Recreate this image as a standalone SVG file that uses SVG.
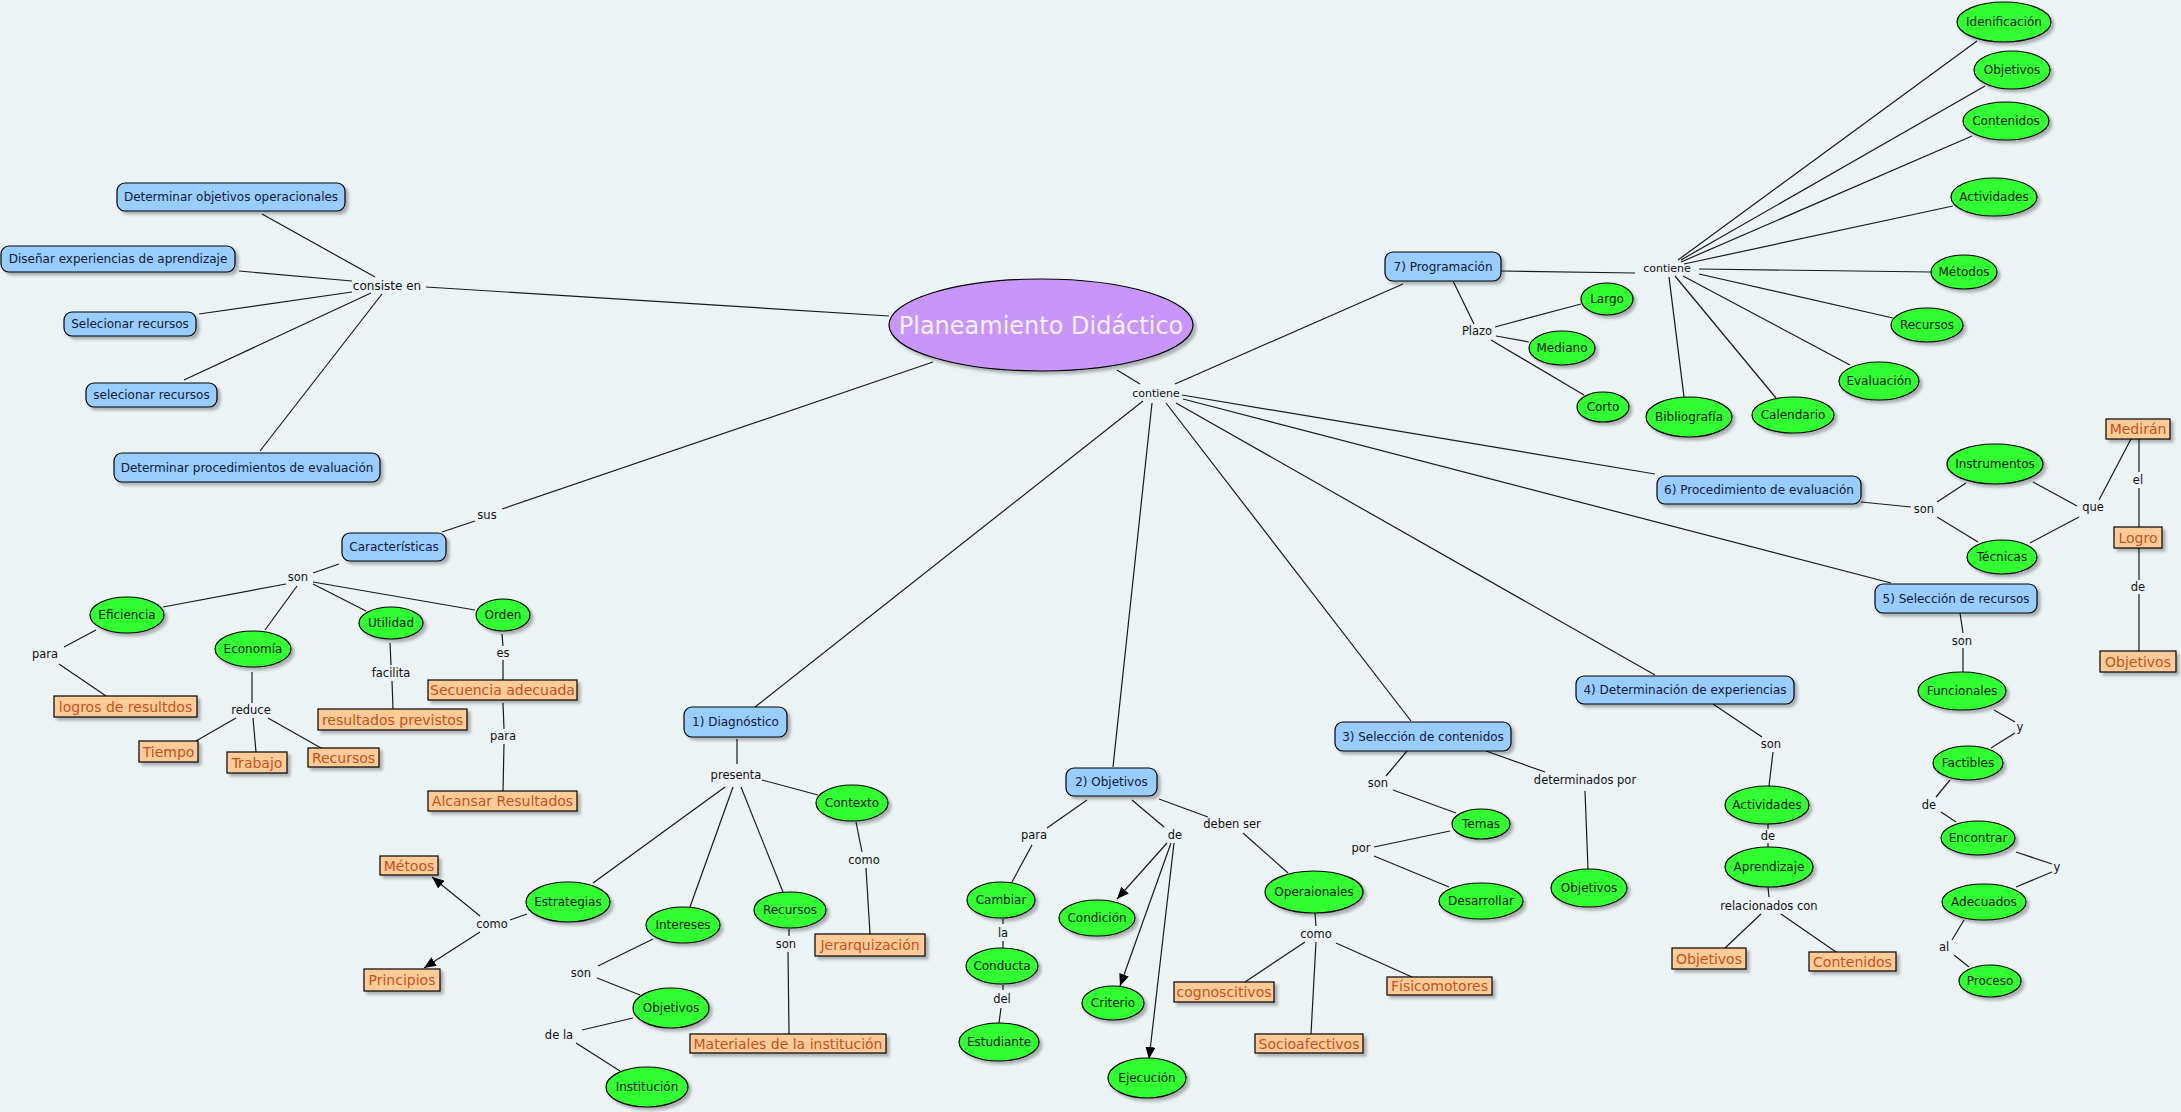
<svg xmlns="http://www.w3.org/2000/svg" width="2181" height="1112" viewBox="0 0 2181 1112">
<defs>
<style>
.bg{fill:#ecf3f5}
.b rect{fill:#99ccff;stroke:#000;stroke-width:1.2}
.g ellipse{fill:#33ff33;stroke:#000;stroke-width:1.2}
.o rect{fill:#ffcc99;stroke:#000;stroke-width:1.2}
.b text{fill:#101a33;font:12px "DejaVu Sans",Verdana,sans-serif;text-anchor:middle}
.g text{fill:#082008;font:12px "DejaVu Sans",Verdana,sans-serif;text-anchor:middle}
.o text{fill:#bf521a;font:14px "DejaVu Sans",Verdana,sans-serif;text-anchor:middle}
.lb text{fill:#111;font:11.5px "DejaVu Sans",Verdana,sans-serif;text-anchor:middle}
.sh{filter:url(#ds)}
#connectors line{stroke:#1a1a1a;stroke-width:1.2;fill:none}
</style>
<filter id="ds" x="-20%" y="-30%" width="150%" height="170%">
<feDropShadow dx="3" dy="3" stdDeviation="1.5" flood-color="#000" flood-opacity="0.28"/>
</filter>
<marker id="ah" viewBox="0 0 12 10" refX="12" refY="5" markerWidth="12" markerHeight="10" markerUnits="userSpaceOnUse" orient="auto">
<path d="M0,0 L12,5 L0,10 z" fill="#000"/>
</marker>
</defs>
<rect class="bg" x="0" y="0" width="2181" height="1112"/>

<g id="connectors">
<line x1="375" y1="277" x2="262" y2="214"/>
<line x1="352" y1="281" x2="239" y2="271"/>
<line x1="352" y1="292" x2="199" y2="314"/>
<line x1="371" y1="293" x2="184" y2="380"/>
<line x1="382" y1="294" x2="260" y2="451"/>
<line x1="426" y1="287" x2="889" y2="316"/>
<line x1="502" y1="509" x2="933" y2="362"/>
<line x1="475" y1="521" x2="442" y2="532"/>
<line x1="1117" y1="370" x2="1140" y2="384"/>
<line x1="1175" y1="384" x2="1403" y2="284"/>
<line x1="1182" y1="395" x2="1655" y2="474"/>
<line x1="1183" y1="399" x2="1891" y2="583"/>
<line x1="1176" y1="403" x2="1655" y2="675"/>
<line x1="1166" y1="403" x2="1411" y2="721"/>
<line x1="1152" y1="403" x2="1113" y2="767"/>
<line x1="1143" y1="401" x2="755" y2="707"/>
<line x1="339" y1="564" x2="313" y2="573"/>
<line x1="286" y1="584" x2="163" y2="607"/>
<line x1="297" y1="586" x2="265" y2="630"/>
<line x1="313" y1="584" x2="366" y2="611"/>
<line x1="313" y1="582" x2="475" y2="610"/>
<line x1="96" y1="630" x2="64" y2="647"/>
<line x1="59" y1="664" x2="106" y2="696"/>
<line x1="252" y1="672" x2="252" y2="703"/>
<line x1="236" y1="718" x2="196" y2="741"/>
<line x1="253" y1="718" x2="256" y2="752"/>
<line x1="268" y1="718" x2="321" y2="748"/>
<line x1="390" y1="643" x2="391" y2="665"/>
<line x1="392" y1="681" x2="393" y2="709"/>
<line x1="502" y1="634" x2="503" y2="646"/>
<line x1="503" y1="660" x2="503" y2="680"/>
<line x1="503" y1="703" x2="504" y2="729"/>
<line x1="504" y1="744" x2="503" y2="791"/>
<line x1="737" y1="739" x2="737" y2="764"/>
<line x1="725" y1="787" x2="593" y2="883"/>
<line x1="733" y1="787" x2="690" y2="907"/>
<line x1="741" y1="787" x2="783" y2="892"/>
<line x1="762" y1="780" x2="818" y2="795"/>
<line x1="856" y1="822" x2="862" y2="852"/>
<line x1="866" y1="868" x2="870" y2="934"/>
<line x1="527" y1="914" x2="510" y2="920"/>
<line x1="480" y1="916" x2="432" y2="877" marker-end="url(#ah)"/>
<line x1="480" y1="932" x2="424" y2="968" marker-end="url(#ah)"/>
<line x1="653" y1="939" x2="598" y2="966"/>
<line x1="597" y1="978" x2="640" y2="995"/>
<line x1="633" y1="1018" x2="582" y2="1030"/>
<line x1="576" y1="1043" x2="620" y2="1071"/>
<line x1="789" y1="929" x2="789" y2="936"/>
<line x1="788" y1="952" x2="789" y2="1034"/>
<line x1="1087" y1="800" x2="1047" y2="828"/>
<line x1="1032" y1="845" x2="1012" y2="882"/>
<line x1="1003" y1="919" x2="1003" y2="924"/>
<line x1="1003" y1="941" x2="1003" y2="948"/>
<line x1="1003" y1="985" x2="1003" y2="990"/>
<line x1="1001" y1="1008" x2="999" y2="1023"/>
<line x1="1132" y1="800" x2="1164" y2="827"/>
<line x1="1167" y1="843" x2="1117" y2="899" marker-end="url(#ah)"/>
<line x1="1171" y1="843" x2="1120" y2="986" marker-end="url(#ah)"/>
<line x1="1174" y1="843" x2="1149" y2="1059" marker-end="url(#ah)"/>
<line x1="1159" y1="799" x2="1208" y2="817"/>
<line x1="1243" y1="833" x2="1288" y2="873"/>
<line x1="1315" y1="913" x2="1316" y2="926"/>
<line x1="1305" y1="942" x2="1245" y2="982"/>
<line x1="1316" y1="942" x2="1311" y2="1034"/>
<line x1="1336" y1="943" x2="1412" y2="977"/>
<line x1="1407" y1="751" x2="1386" y2="776"/>
<line x1="1393" y1="790" x2="1456" y2="813"/>
<line x1="1450" y1="831" x2="1374" y2="847"/>
<line x1="1374" y1="856" x2="1449" y2="887"/>
<line x1="1486" y1="751" x2="1545" y2="772"/>
<line x1="1585" y1="791" x2="1588" y2="869"/>
<line x1="1713" y1="704" x2="1762" y2="737"/>
<line x1="1773" y1="752" x2="1769" y2="786"/>
<line x1="1768" y1="824" x2="1768" y2="829"/>
<line x1="1768" y1="843" x2="1768" y2="847"/>
<line x1="1768" y1="887" x2="1769" y2="897"/>
<line x1="1761" y1="914" x2="1725" y2="948"/>
<line x1="1781" y1="914" x2="1836" y2="952"/>
<line x1="1960" y1="613" x2="1963" y2="633"/>
<line x1="1963" y1="648" x2="1963" y2="672"/>
<line x1="1994" y1="710" x2="2015" y2="722"/>
<line x1="2015" y1="733" x2="1991" y2="748"/>
<line x1="1950" y1="780" x2="1936" y2="797"/>
<line x1="1941" y1="812" x2="1956" y2="822"/>
<line x1="2016" y1="852" x2="2052" y2="864"/>
<line x1="2052" y1="872" x2="2016" y2="887"/>
<line x1="1964" y1="920" x2="1952" y2="940"/>
<line x1="1954" y1="955" x2="1969" y2="967"/>
<line x1="1861" y1="502" x2="1911" y2="507"/>
<line x1="1937" y1="502" x2="1966" y2="483"/>
<line x1="1937" y1="517" x2="1978" y2="542"/>
<line x1="2033" y1="482" x2="2077" y2="506"/>
<line x1="2030" y1="543" x2="2079" y2="517"/>
<line x1="2099" y1="500" x2="2131" y2="439"/>
<line x1="2139" y1="439" x2="2139" y2="472"/>
<line x1="2139" y1="488" x2="2139" y2="527"/>
<line x1="2139" y1="548" x2="2139" y2="580"/>
<line x1="2139" y1="594" x2="2139" y2="651"/>
<line x1="1501" y1="271" x2="1635" y2="273"/>
<line x1="1453" y1="281" x2="1474" y2="324"/>
<line x1="1495" y1="327" x2="1581" y2="304"/>
<line x1="1496" y1="336" x2="1529" y2="342"/>
<line x1="1491" y1="340" x2="1584" y2="395"/>
<line x1="1678" y1="260" x2="1977" y2="41"/>
<line x1="1681" y1="260" x2="1985" y2="86"/>
<line x1="1681" y1="262" x2="1972" y2="136"/>
<line x1="1684" y1="264" x2="1953" y2="206"/>
<line x1="1699" y1="269" x2="1931" y2="272"/>
<line x1="1699" y1="274" x2="1893" y2="318"/>
<line x1="1683" y1="276" x2="1850" y2="365"/>
<line x1="1675" y1="276" x2="1776" y2="398"/>
<line x1="1669" y1="277" x2="1684" y2="397"/>
</g>

<g id="labels" class="lb">
<text x="387" y="290" style="font-size:12px">consiste en</text>
<text x="487" y="519">sus</text>
<text x="298" y="581">son</text>
<text x="45" y="658">para</text>
<text x="251" y="714">reduce</text>
<text x="391" y="677">facilita</text>
<text x="503" y="657">es</text>
<text x="503" y="740">para</text>
<text x="1156" y="397" style="font-size:11px">contiene</text>
<text x="736" y="779">presenta</text>
<text x="492" y="928">como</text>
<text x="581" y="977">son</text>
<text x="559" y="1039">de la</text>
<text x="786" y="948">son</text>
<text x="864" y="864">como</text>
<text x="1034" y="839">para</text>
<text x="1003" y="937">la</text>
<text x="1002" y="1003">del</text>
<text x="1175" y="839">de</text>
<text x="1232" y="828">deben ser</text>
<text x="1316" y="938">como</text>
<text x="1378" y="787">son</text>
<text x="1361" y="852">por</text>
<text x="1585" y="784">determinados por</text>
<text x="1771" y="748">son</text>
<text x="1768" y="840">de</text>
<text x="1769" y="910">relacionados con</text>
<text x="1667" y="272" style="font-size:11px">contiene</text>
<text x="1477" y="335">Plazo</text>
<text x="1924" y="513">son</text>
<text x="2093" y="511">que</text>
<text x="2138" y="484">el</text>
<text x="2138" y="591">de</text>
<text x="1962" y="645">son</text>
<text x="2020" y="731">y</text>
<text x="1929" y="809">de</text>
<text x="2057" y="871">y</text>
<text x="1944" y="951">al</text>
</g>

<g id="main">
<ellipse class="sh" cx="1041" cy="325" rx="152" ry="46" fill="#c896fa" stroke="#000" stroke-width="1.2"/>
<text x="1041" y="334" fill="#f6f0ff" style="font:24px 'DejaVu Sans',Verdana,sans-serif" text-anchor="middle">Planeamiento Didáctico</text>
</g>

<g id="dobj" class="b"><rect class="sh" x="117" y="183" width="228" height="28" rx="8"/><text x="231" y="201.3">Determinar objetivos operacionales</text></g>
<g id="dis" class="b"><rect class="sh" x="1" y="246" width="234" height="26" rx="8"/><text x="118" y="263.3">Diseñar experiencias de aprendizaje</text></g>
<g id="sel1" class="b"><rect class="sh" x="64" y="312" width="132" height="24" rx="8"/><text x="130" y="328.3">Selecionar recursos</text></g>
<g id="sel2" class="b"><rect class="sh" x="86" y="383" width="131" height="24" rx="8"/><text x="151.5" y="399.3">selecionar recursos</text></g>
<g id="dproc" class="b"><rect class="sh" x="114" y="453" width="266" height="29" rx="8"/><text x="247" y="471.8">Determinar procedimientos de evaluación</text></g>
<g id="carac" class="b"><rect class="sh" x="342" y="533" width="104" height="28" rx="8"/><text x="394" y="551.3">Características</text></g>
<g id="diag" class="b"><rect class="sh" x="684" y="707" width="103" height="30" rx="8"/><text x="735.5" y="726.3">1) Diagnóstico</text></g>
<g id="obj2" class="b"><rect class="sh" x="1066" y="768" width="91" height="28" rx="8"/><text x="1111.5" y="786.3">2) Objetivos</text></g>
<g id="selcont" class="b"><rect class="sh" x="1335" y="722" width="176" height="29" rx="8"/><text x="1423" y="740.8">3) Selección de contenidos</text></g>
<g id="detexp" class="b"><rect class="sh" x="1576" y="676" width="218" height="28" rx="8"/><text x="1685" y="694.3">4) Determinación de experiencias</text></g>
<g id="selrec" class="b"><rect class="sh" x="1875" y="584" width="162" height="29" rx="8"/><text x="1956" y="602.8">5) Selección de recursos</text></g>
<g id="proc" class="b"><rect class="sh" x="1657" y="476" width="204" height="28" rx="8"/><text x="1759" y="494.3">6) Procedimiento de evaluación</text></g>
<g id="prog" class="b"><rect class="sh" x="1385" y="252" width="116" height="29" rx="8"/><text x="1443" y="270.8">7) Programación</text></g>

<g id="efic" class="g"><ellipse class="sh" cx="127" cy="615" rx="37" ry="18"/><text x="127" y="619.3">Eficiencia</text></g>
<g id="econ" class="g"><ellipse class="sh" cx="253" cy="649" rx="38" ry="18"/><text x="253" y="653.3">Economía</text></g>
<g id="util" class="g"><ellipse class="sh" cx="391" cy="623" rx="32" ry="16"/><text x="391" y="627.3">Utilidad</text></g>
<g id="orden" class="g"><ellipse class="sh" cx="503" cy="615" rx="27" ry="16"/><text x="503" y="619.3">Orden</text></g>
<g id="estr" class="g"><ellipse class="sh" cx="568" cy="902" rx="42" ry="20"/><text x="568" y="906.3">Estrategias</text></g>
<g id="inter" class="g"><ellipse class="sh" cx="683" cy="925" rx="37" ry="18"/><text x="683" y="929.3">Intereses</text></g>
<g id="recm" class="g"><ellipse class="sh" cx="790" cy="910" rx="36" ry="18"/><text x="790" y="914.3">Recursos</text></g>
<g id="ctx" class="g"><ellipse class="sh" cx="852" cy="803" rx="36" ry="18"/><text x="852" y="807.3">Contexto</text></g>
<g id="objl" class="g"><ellipse class="sh" cx="671" cy="1008" rx="38" ry="20"/><text x="671" y="1012.3">Objetivos</text></g>
<g id="inst" class="g"><ellipse class="sh" cx="647" cy="1087" rx="41" ry="20"/><text x="647" y="1091.3">Institución</text></g>
<g id="camb" class="g"><ellipse class="sh" cx="1001" cy="900" rx="34" ry="18"/><text x="1001" y="904.3">Cambiar</text></g>
<g id="cond" class="g"><ellipse class="sh" cx="1002" cy="966" rx="36" ry="18"/><text x="1002" y="970.3">Conducta</text></g>
<g id="estu" class="g"><ellipse class="sh" cx="999" cy="1042" rx="40" ry="19"/><text x="999" y="1046.3">Estudiante</text></g>
<g id="condi" class="g"><ellipse class="sh" cx="1097" cy="918" rx="38" ry="18"/><text x="1097" y="922.3">Condición</text></g>
<g id="crit" class="g"><ellipse class="sh" cx="1113" cy="1003" rx="31" ry="17"/><text x="1113" y="1007.3">Criterio</text></g>
<g id="ejec" class="g"><ellipse class="sh" cx="1147" cy="1078" rx="39" ry="20"/><text x="1147" y="1082.3">Ejecución</text></g>
<g id="oper" class="g"><ellipse class="sh" cx="1314" cy="892" rx="49" ry="21"/><text x="1314" y="896.3">Operaionales</text></g>
<g id="temas" class="g"><ellipse class="sh" cx="1481" cy="824" rx="29" ry="15"/><text x="1481" y="828.3">Temas</text></g>
<g id="desa" class="g"><ellipse class="sh" cx="1481" cy="901" rx="42" ry="18"/><text x="1481" y="905.3">Desarrollar</text></g>
<g id="objm" class="g"><ellipse class="sh" cx="1589" cy="888" rx="38" ry="19"/><text x="1589" y="892.3">Objetivos</text></g>
<g id="activ2" class="g"><ellipse class="sh" cx="1767" cy="805" rx="42" ry="19"/><text x="1767" y="809.3">Actividades</text></g>
<g id="apren" class="g"><ellipse class="sh" cx="1769" cy="867" rx="44" ry="20"/><text x="1769" y="871.3">Aprendizaje</text></g>
<g id="func" class="g"><ellipse class="sh" cx="1962" cy="691" rx="44" ry="19"/><text x="1962" y="695.3">Funcionales</text></g>
<g id="fact" class="g"><ellipse class="sh" cx="1968" cy="763" rx="35" ry="17"/><text x="1968" y="767.3">Factibles</text></g>
<g id="enc" class="g"><ellipse class="sh" cx="1978" cy="838" rx="37" ry="17"/><text x="1978" y="842.3">Encontrar</text></g>
<g id="adec" class="g"><ellipse class="sh" cx="1984" cy="902" rx="42" ry="18"/><text x="1984" y="906.3">Adecuados</text></g>
<g id="proceso" class="g"><ellipse class="sh" cx="1990" cy="981" rx="31" ry="16"/><text x="1990" y="985.3">Proceso</text></g>
<g id="instr" class="g"><ellipse class="sh" cx="1995" cy="464" rx="48" ry="20"/><text x="1995" y="468.3">Instrumentos</text></g>
<g id="tec" class="g"><ellipse class="sh" cx="2002" cy="557" rx="35" ry="17"/><text x="2002" y="561.3">Técnicas</text></g>
<g id="largo" class="g"><ellipse class="sh" cx="1607" cy="299" rx="26" ry="16"/><text x="1607" y="303.3">Largo</text></g>
<g id="med" class="g"><ellipse class="sh" cx="1562" cy="348" rx="33" ry="17"/><text x="1562" y="352.3">Mediano</text></g>
<g id="corto" class="g"><ellipse class="sh" cx="1603" cy="407" rx="26" ry="15"/><text x="1603" y="411.3">Corto</text></g>
<g id="biblio" class="g"><ellipse class="sh" cx="1689" cy="417" rx="43" ry="20"/><text x="1689" y="421.3">Bibliografía</text></g>
<g id="cal" class="g"><ellipse class="sh" cx="1793" cy="415" rx="41" ry="18"/><text x="1793" y="419.3">Calendario</text></g>
<g id="eval" class="g"><ellipse class="sh" cx="1879" cy="381" rx="40" ry="19"/><text x="1879" y="385.3">Evaluación</text></g>
<g id="recr" class="g"><ellipse class="sh" cx="1927" cy="325" rx="36" ry="17"/><text x="1927" y="329.3">Recursos</text></g>
<g id="met" class="g"><ellipse class="sh" cx="1964" cy="272" rx="33" ry="17"/><text x="1964" y="276.3">Métodos</text></g>
<g id="activ" class="g"><ellipse class="sh" cx="1994" cy="197" rx="43" ry="19"/><text x="1994" y="201.3">Actividades</text></g>
<g id="cont" class="g"><ellipse class="sh" cx="2006" cy="121" rx="43" ry="19"/><text x="2006" y="125.3">Contenidos</text></g>
<g id="objt" class="g"><ellipse class="sh" cx="2012" cy="70" rx="38" ry="19"/><text x="2012" y="74.3">Objetivos</text></g>
<g id="iden" class="g"><ellipse class="sh" cx="2004" cy="22" rx="47" ry="20"/><text x="2004" y="26.3">Idenificación</text></g>

<g id="logros" class="o"><rect class="sh" x="54" y="696" width="143" height="21"/><text x="125.5" y="711.5">logros de resultdos</text></g>
<g id="tiempo" class="o"><rect class="sh" x="139" y="741" width="59" height="21"/><text x="168.5" y="756.5">Tiempo</text></g>
<g id="trabajo" class="o"><rect class="sh" x="227" y="752" width="60" height="21"/><text x="257" y="767.5">Trabajo</text></g>
<g id="recu" class="o"><rect class="sh" x="308" y="748" width="71" height="19"/><text x="343.5" y="762.5">Recursos</text></g>
<g id="resprev" class="o"><rect class="sh" x="318" y="709" width="149" height="21"/><text x="392.5" y="724.5">resultados previstos</text></g>
<g id="secu" class="o"><rect class="sh" x="428" y="680" width="149" height="20"/><text x="502.5" y="695">Secuencia adecuada</text></g>
<g id="alc" class="o"><rect class="sh" x="428" y="791" width="149" height="20"/><text x="502.5" y="806">Alcansar Resultados</text></g>
<g id="metoos" class="o"><rect class="sh" x="380" y="856" width="58" height="19"/><text x="409" y="870.5">Métoos</text></g>
<g id="princ" class="o"><rect class="sh" x="364" y="969" width="76" height="22"/><text x="402" y="985">Principios</text></g>
<g id="jerar" class="o"><rect class="sh" x="815" y="934" width="110" height="22"/><text x="870" y="950">Jerarquización</text></g>
<g id="mater" class="o"><rect class="sh" x="690" y="1034" width="196" height="19"/><text x="788" y="1048.5">Materiales de la institución</text></g>
<g id="cogn" class="o"><rect class="sh" x="1174" y="982" width="100" height="20"/><text x="1224" y="997">cognoscitivos</text></g>
<g id="socio" class="o"><rect class="sh" x="1255" y="1034" width="108" height="19"/><text x="1309" y="1048.5">Socioafectivos</text></g>
<g id="fisico" class="o"><rect class="sh" x="1387" y="977" width="105" height="18"/><text x="1439.5" y="991">Físicomotores</text></g>
<g id="objo" class="o"><rect class="sh" x="1672" y="948" width="74" height="21"/><text x="1709" y="963.5">Objetivos</text></g>
<g id="conto" class="o"><rect class="sh" x="1809" y="952" width="87" height="19"/><text x="1852.5" y="966.5">Contenidos</text></g>
<g id="medir" class="o"><rect class="sh" x="2106" y="419" width="64" height="20"/><text x="2138" y="434">Medirán</text></g>
<g id="logro" class="o"><rect class="sh" x="2114" y="527" width="48" height="21"/><text x="2138" y="542.5">Logro</text></g>
<g id="objr" class="o"><rect class="sh" x="2100" y="651" width="76" height="21"/><text x="2138" y="666.5">Objetivos</text></g>
</svg>
